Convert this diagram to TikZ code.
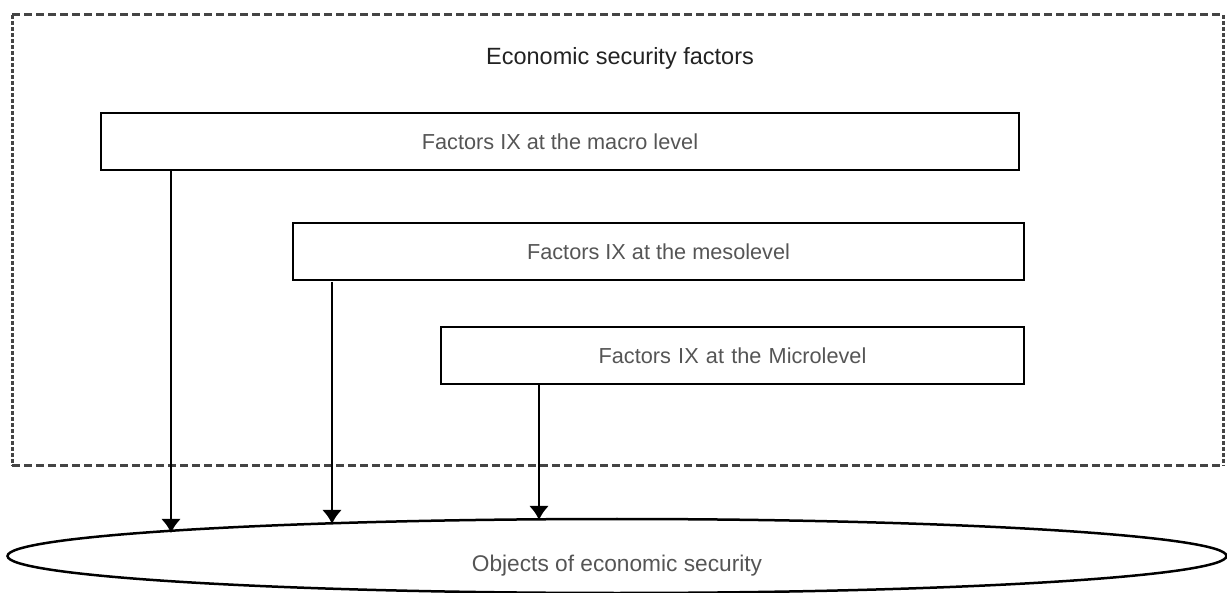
\documentclass[tikz,border=0pt]{standalone}
\usepackage{fontspec}
\setmainfont{Liberation Sans}
\usetikzlibrary{arrows.meta,positioning,shapes.geometric}

\definecolor{dashgray}{HTML}{444444}
\definecolor{textgray}{HTML}{555555}
\definecolor{titleblack}{HTML}{222222}

\begin{document}
\begin{tikzpicture}[x=1pt, y=-1pt]
	\tikzstyle{all nodes}=[shape=rectangle]
	\tikzstyle{box}=[draw, line width=2.6pt, inner sep=0pt, outer sep=0pt, minimum height=57pt,
		anchor=north west, text=textgray, font=\fontsize{21.7}{26}\selectfont]
	\tikzstyle{link}=[line width=2.8pt, -{Latex[length=14pt,width=20pt]}]
	\tikzstyle{hside}=[line width=3pt, dashgray, dash pattern=on 8pt off 4pt]
	\tikzstyle{vside}=[line width=3pt, dashgray, dash pattern=on 4pt off 2pt]
	\useasboundingbox (0,0) rectangle (1227,593);
	% % Nodes
	% outer frame
	\node[inner sep=0pt, minimum width=1211pt, minimum height=450pt, anchor=north west]
	(factors) at (12,15) {};
	\node[text=titleblack, font=\fontsize{23.5}{28}\selectfont] (title) at (620,58)
	{Economic security factors};
	% macro level
	\node[box, minimum width=918pt] (macro) at (101,113)
	{Factors IX at the macro level};
	% meso level
	\node[box, minimum width=731pt] (meso) at (293,223)
	{Factors IX at the mesolevel};
	% micro level
	\node[box, minimum width=583pt, text width=520pt, align=center] (micro) at (441,327)
	{Factors IX at the Microlevel};
	% objects
	\node[draw, ellipse, line width=2.5pt, inner sep=0pt, minimum width=1219pt, minimum height=74pt,
		  text height=30pt, text depth=0pt,
		  text=textgray, font=\fontsize{22.7}{27}\selectfont] (objects) at (617,556)
	{Objects of economic security};
	% arrow ends on the ellipse
	\coordinate (macroend) at (171,533);
	\coordinate (mesoend) at (332,524);
	\coordinate (microend) at (539,520);
	% % Connectors
	\draw[hside] (factors.north west) -- (factors.north east);
	\draw[hside] (factors.south west) -- (factors.south east);
	\draw[vside] (factors.north west) -- (factors.south west);
	\draw[vside] (factors.north east) -- (factors.south east);
	\draw[link] (macro.south -| macroend) -- (macroend);
	\draw[link] ([yshift=-2pt]meso.south -| mesoend) -- (mesoend);
	\draw[link] (micro.south -| microend) -- (microend);
\end{tikzpicture}
\end{document}
